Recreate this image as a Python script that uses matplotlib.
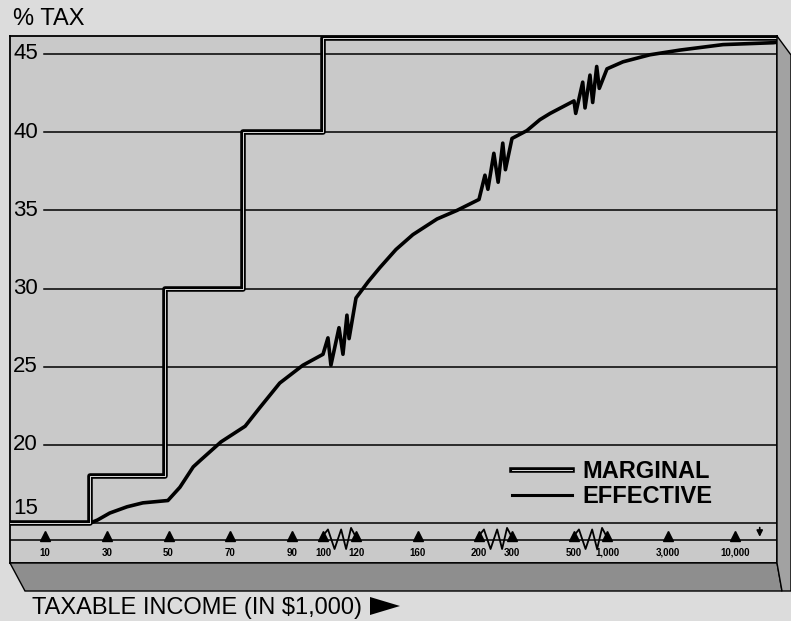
import numpy as np
import matplotlib
matplotlib.use('Agg')
import matplotlib.pyplot as plt
from matplotlib.patches import Polygon
from matplotlib.lines import Line2D
from matplotlib.legend_handler import HandlerTuple

plt.rcParams['font.family'] = ['Liberation Sans', 'DejaVu Sans']

# marginal rate brackets, taxable income in $1,000
bracket_start = [0, 24.5, 49, 74, 100]
bracket_rate = [15, 18, 30, 40, 46]
income_top = 21300

# effective rate (zigzags sit inside the axis breaks)
eff_income = [0, 24.5, 27, 31, 36.6, 41.7, 49.8, 53.7, 58, 60.2, 67, 74.8,
              79.6, 86, 93.5, 100,
              103, 104.8, 109.7, 112.1, 114.5, 115.8, 120,
              128, 135.6, 146, 157, 172.7, 185.7, 200,
              218, 227, 245, 258, 272, 280, 300,
              348, 390, 423, 500,
              526, 632, 667, 742, 783, 844, 883, 1000,
              1334, 2166, 3716, 8070, 19840, 21300]
eff_rate = [15, 15, 15.2, 15.65, 16.05, 16.3, 16.45, 17.3, 18.6, 19.0, 20.2, 21.2,
            22.4, 23.96, 25.1, 25.8,
            26.85, 25.1, 27.5, 25.8, 28.3, 26.8, 29.4,
            30.45, 31.35, 32.5, 33.45, 34.45, 35.0, 35.7,
            37.25, 36.35, 38.65, 36.8, 39.3, 37.6, 39.6,
            40.1, 40.8, 41.2, 42.0,
            41.2, 43.2, 41.55, 43.65, 41.9, 44.2, 42.8, 44.05,
            44.5, 44.95, 45.25, 45.6, 45.72, 45.75]

tick_income = [10, 30, 50, 70, 90, 100, 120, 160, 200, 300, 500, 1000, 3000, 10000]
tick_text = ['10', '30', '50', '70', '90', '100', '120', '160', '200', '300',
             '500', '1,000', '3,000', '10,000']
breaks = [(100, 120), (200, 300), (500, 1000)]
y_ticks = [45, 40, 35, 30, 25, 20]

# broken income axis: piecewise linear up to 1,000, log above
knot_in = np.array([-20, 0, 100, 120, 200, 300, 500, 1000])
knot_pos = np.array([-47.8, 14, 323, 356, 479, 512, 574, 607])


def fwd(x):
    x = np.asarray(x, dtype=float)
    lin = np.interp(x, knot_in, knot_pos)
    lg = 607 + 128 * np.log10(np.maximum(x, 1000) / 1000)
    return np.where(x <= 1000, lin, lg)


def inv(u):
    u = np.asarray(u, dtype=float)
    lin = np.interp(u, knot_pos, knot_in)
    lg = 1000 * 10 ** ((np.maximum(u, 607) - 607) / 128)
    return np.where(u <= 607, lin, lg)


W, H = 791, 621
fig = plt.figure(figsize=(W / 100, H / 100), dpi=100, facecolor='#dcdcdc')


def px(x, y):
    return (x / W, 1 - y / H)


# base slab and side face of the box
fig.patches.append(Polygon([px(10, 563), px(777, 563), px(782, 591), px(25, 591)],
                           closed=True, transform=fig.transFigure,
                           facecolor='#8e8e8e', edgecolor='black', lw=1.0))
fig.patches.append(Polygon([px(777, 36), px(791, 55), px(791, 591), px(782, 591), px(777, 563)],
                           closed=True, transform=fig.transFigure,
                           facecolor='#a2a2a2', edgecolor='black', lw=1.0))

ax = fig.add_axes([10 / W, (H - 563) / H, 767 / W, 527 / H])
ax.set_facecolor('#c9c9c9')
ax.set_xscale('function', functions=(fwd, inv))
ax.set_xlim(inv(10), inv(777))
ax.set_ylim(12.455, 46.15)
ax.set_xticks([])
ax.set_yticks([])
ax.minorticks_off()
for s in ax.spines.values():
    s.set_linewidth(1.3)

# grid lines start right of the labels
for v in y_ticks:
    ax.axhline(v, xmin=34 / 767, color='black', lw=1.1, zorder=1)
    ax.text(3 / 767, v, str(v), transform=ax.get_yaxis_transform(),
            fontsize=16, va='center', ha='left')
ax.text(3 / 767, 15.95, '15', transform=ax.get_yaxis_transform(),
        fontsize=16, va='center', ha='left')

# axis strip
ax.axhline(15, color='black', lw=1.1, zorder=1)
ax.axhline(13.93, color='black', lw=1.1, zorder=1)
ax.plot(tick_income, [14.2] * len(tick_income), '^', color='black',
        markersize=7, zorder=3)
for xi, lab in zip(tick_income, tick_text):
    ax.text(xi, 13.1, lab, fontsize=7, fontweight='bold', ha='center', va='center')

zig_f = [0, 0.15, 0.35, 0.55, 0.7, 0.85, 1.0]
zig_v = [14.2, 14.6, 13.35, 14.6, 13.35, 14.7, 14.1]
for lo, hi in breaks:
    ax.plot([lo + f * (hi - lo) for f in zig_f], zig_v, color='black',
            lw=1.3, zorder=3)

ax.annotate('', xy=(15600, 13.95), xytext=(15600, 14.9),
            arrowprops=dict(arrowstyle='-|>', color='black', lw=1.2,
                            mutation_scale=9))

# effective rate curve
ax.plot(eff_income, eff_rate, color='black', lw=2.6, zorder=4)

# marginal rate as a double line
step_x = [ax.get_xlim()[0]] + bracket_start[1:] + [income_top]
step_y = bracket_rate + [bracket_rate[-1]]
ax.step(step_x, step_y, where='post', color='black', lw=4.0, zorder=5)
ax.step(step_x, step_y, where='post', color='white', lw=0.6, zorder=6)

h_marg = (Line2D([], [], color='black', lw=4.0), Line2D([], [], color='white', lw=0.6))
h_eff = Line2D([], [], color='black', lw=2.2)
leg = ax.legend([h_marg, h_eff], ['MARGINAL', 'EFFECTIVE'],
                handler_map={tuple: HandlerTuple(ndivide=1)},
                loc='upper left', bbox_to_anchor=px(512, 460),
                bbox_transform=fig.transFigure, frameon=False,
                borderpad=0, borderaxespad=0, handlelength=2.55,
                handletextpad=0.45, labelspacing=0.1,
                prop={'family': 'Liberation Sans', 'weight': 'bold', 'size': 17})

fig.text(13 / W, 1 - 25 / H, '% TAX', fontsize=17, va='baseline', ha='left')
fig.text(32 / W, 1 - 614 / H, 'TAXABLE INCOME (IN $1,000)', fontsize=17,
         va='baseline', ha='left')
fig.patches.append(Polygon([px(370, 597), px(400, 606), px(370, 615)], closed=True,
                           transform=fig.transFigure, facecolor='black'))

fig.savefig('out.png', dpi=100, facecolor=fig.get_facecolor())
